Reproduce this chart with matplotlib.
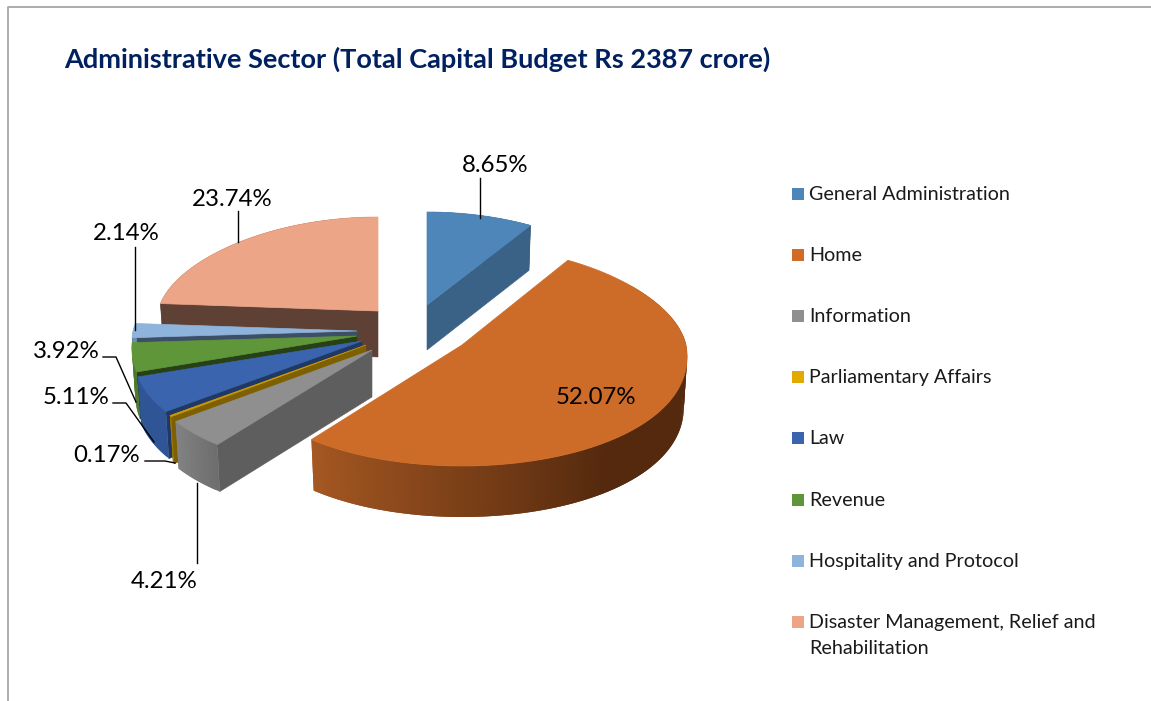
import numpy as np
import matplotlib
matplotlib.use("Agg")
import matplotlib.pyplot as plt
from matplotlib.patches import Polygon

plt.rcParams['font.family'] = ['Lato', 'DejaVu Sans']

title = "Administrative Sector (Total Capital Budget Rs 2387 crore)"
sectors = ["General Administration", "Home", "Information", "Parliamentary Affairs",
           "Law", "Revenue", "Hospitality and Protocol",
           "Disaster Management, Relief and\nRehabilitation"]
shares = [8.65, 52.07, 4.21, 0.17, 5.11, 3.92, 2.14, 23.74]

top_col = ["#4e86ba", "#cd6b28", "#8f8f8f", "#d09c00", "#3a64ad", "#5f9639", "#8fb4dc", "#eca586"]
face_col = ["#3a6186", "#54290e", "#5e5e5e", "#7f6000", "#1f3864", "#274016", "#3c4f66", "#5e4035"]
rim_left = ["#3a6186", "#a55822", "#828282", "#a07800", "#2f5597", "#4c7a2e", "#6f8fb0", "#5e4035"]
rim_right = ["#3a6186", "#54290e", "#6e6e6e", "#a07800", "#2f5597", "#4c7a2e", "#6f8fb0", "#5e4035"]
legend_col = ["#4e86ba", "#d06c28", "#8f8f8f", "#e2a900", "#3a64ad", "#5f9639", "#8fb4dc", "#eca586"]

# where each exploded slice has its point, in pixels
apex = [(427, 305), (462, 345), (372, 350), (366, 345), (362, 341), (357, 336), (357, 331), (378, 311)]
radius = [219, 224, 230, 228, 228, 224, 224, 220]
ry_back = [93, 99, 95, 95, 95, 95, 95, 94]
depth = [45, 51, 47, 47, 47, 47, 47, 46]
draw_order = [7, 6, 5, 4, 3, 2, 0, 1]

RY_FRONT = 121
PERSP = 0.1

edges = np.concatenate([[0], np.cumsum(shares)]) / np.sum(shares) * 2 * np.pi


def rim_pts(i, t, drop=0):
    x0, y0 = apex[i]
    r = radius[i] * (0.985 if drop else 1)
    ry = np.where(np.cos(t) > 0, ry_back[i], RY_FRONT)
    x = x0 + r * np.sin(t) * (1 - PERSP * np.cos(t))
    y = y0 - ry * np.cos(t) + drop
    return np.column_stack([x, y])


fig = plt.figure(figsize=(11.51, 7.01), dpi=100)
ax = fig.add_axes([0, 0, 1, 1])
ax.set_xlim(0, 1151)
ax.set_ylim(701, 0)
ax.axis("off")

ax.plot([8, 8, 1151], [701, 7, 7], color="#a6a6a6", lw=1.3)

for i in draw_order:
    t0, t1 = edges[i], edges[i + 1]
    d = depth[i]
    x0, y0 = apex[i]
    # flat cut face that looks towards the viewer
    t_face = t1 if i == 0 else t0
    if i != 1:
        a = rim_pts(i, np.array([t_face]))[0]
        b = rim_pts(i, np.array([t_face]), d)[0]
        ax.add_patch(Polygon([(x0, y0), a, b, (x0, y0 + d)], fc=face_col[i], ec=face_col[i], lw=0.4))
    # outer rim, shaded strip by strip
    ts = np.linspace(t0, t1, max(3, int((t1 - t0) * 60)))
    up = rim_pts(i, ts)
    low = rim_pts(i, ts, d)
    c0 = np.array(matplotlib.colors.to_rgb(rim_left[i]))
    c1 = np.array(matplotlib.colors.to_rgb(rim_right[i]))
    n = len(ts) - 1
    # Home stays dark on its right side, the fade only starts past the bottom
    dark_until = 0.6 if i == 1 else 0.0
    for k in range(n):
        if np.cos(ts[k]) > 0.6 and i != 0 and i != 7:
            continue
        f = np.clip((k / max(n - 1, 1) - dark_until) / (1 - dark_until), 0, 1)
        col = c1 + (c0 - c1) * f
        j = min(k + 2, n)  # overlap the next strip so no seams show
        ax.add_patch(Polygon([up[k], up[j], low[j], low[k]], fc=col, ec="none", lw=0))
    # top of the slice
    ax.add_patch(Polygon(np.vstack([[(x0, y0)], up]), fc=top_col[i], ec=top_col[i], lw=0.5))

ax.text(64, 59, title, fontsize=19.5, fontweight="bold", color="#002060", va="center", ha="left")

# data labels and their leader lines
label_pos = [(495, 166), (596, 398), (164, 581), (107, 456), (76, 397), (66, 351), (126, 233), (232, 199)]
leaders = [[(480, 178), (480, 218)], None, [(197, 563), (197, 483)],
           [(145, 461), (165, 461), (175, 463)], [(113, 403), (126, 403), (154, 442)],
           [(103, 357), (116, 357), (136, 402)], [(135, 247), (135, 330)], [(238, 211), (238, 242)]]
for v, p, l in zip(shares, label_pos, leaders):
    ax.text(p[0], p[1], f"{v:.2f}%", fontsize=17.3, color="black", ha="center", va="center")
    if l is not None:
        ax.plot(*zip(*l), color="black", lw=1)

# legend, spaced evenly down the right side
for i, name in enumerate(sectors):
    y = 194 + 61.1 * i
    ax.add_patch(Polygon([(792, y - 6), (804, y - 6), (804, y + 6), (792, y + 6)], fc=legend_col[i], ec="none"))
    ax.text(809, y + 0.5, name.split("\n")[0], fontsize=14.2, color="#1a1a1a", va="center", ha="left")
    if "\n" in name:
        ax.text(809, y + 26.5, name.split("\n")[1], fontsize=14.2, color="#1a1a1a", va="center", ha="left")

fig.savefig("out.png", dpi=100)
